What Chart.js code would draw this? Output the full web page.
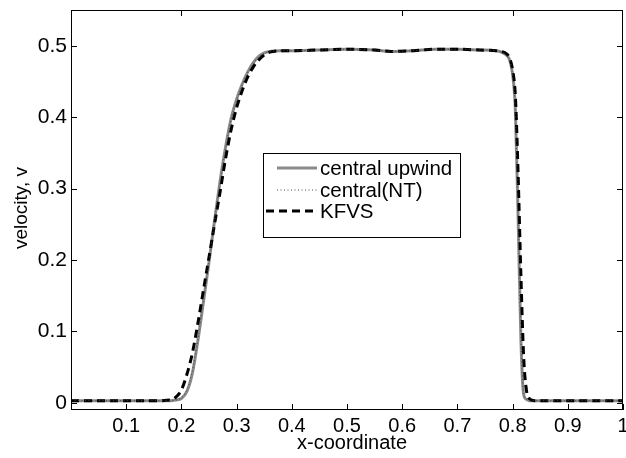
<!DOCTYPE html>
<html>
<head>
<meta charset="utf-8">
<script src="https://cdn.jsdelivr.net/npm/chart.js@4"></script>
<style>
  body { margin: 0; background: #fff; }
  canvas { display: block; }
</style>
</head>
<body>
<canvas id="velocityChart" width="626" height="458"></canvas>
<script>
// x positions shared by all three solutions
const xGrid = [0, 0.05, 0.1, 0.15, 0.18, 0.19, 0.2, 0.21, 0.22, 0.23, 0.24, 0.25, 0.26, 0.27, 0.28, 0.29,
  0.3, 0.31, 0.32, 0.33, 0.34, 0.35, 0.36, 0.38, 0.4, 0.45, 0.5, 0.55, 0.58, 0.62, 0.66, 0.7, 0.74,
  0.77, 0.78, 0.79, 0.795, 0.8, 0.805, 0.81, 0.815, 0.82, 0.825, 0.83, 0.84, 0.9, 0.95, 1.0];

const upwindV = [0.003, 0.003, 0.003, 0.003, 0.003, 0.004, 0.006, 0.016, 0.042, 0.088, 0.142, 0.197, 0.255, 0.31, 0.358, 0.398,
  0.425, 0.446, 0.463, 0.476, 0.485, 0.49, 0.492, 0.493, 0.493, 0.494, 0.495, 0.494, 0.492, 0.493, 0.495, 0.495, 0.494,
  0.493, 0.491, 0.486, 0.479, 0.46, 0.41, 0.26, 0.09, 0.012, 0.005, 0.003, 0.003, 0.003, 0.003, 0.003];

const centralNtV = [0.003, 0.003, 0.003, 0.003, 0.003, 0.004, 0.007, 0.018, 0.045, 0.09, 0.144, 0.198, 0.255, 0.309, 0.356, 0.396,
  0.424, 0.445, 0.462, 0.475, 0.484, 0.489, 0.492, 0.493, 0.493, 0.494, 0.495, 0.494, 0.492, 0.493, 0.495, 0.495, 0.494,
  0.493, 0.491, 0.486, 0.478, 0.458, 0.405, 0.255, 0.09, 0.013, 0.005, 0.003, 0.003, 0.003, 0.003, 0.003];

const kfvsV = [0.003, 0.003, 0.003, 0.003, 0.004, 0.008, 0.018, 0.04, 0.07, 0.112, 0.158, 0.204, 0.25, 0.295, 0.342, 0.382,
  0.413, 0.437, 0.456, 0.47, 0.48, 0.487, 0.491, 0.493, 0.493, 0.494, 0.495, 0.494, 0.492, 0.493, 0.495, 0.495, 0.494,
  0.493, 0.492, 0.488, 0.482, 0.466, 0.43, 0.32, 0.18, 0.065, 0.018, 0.006, 0.003, 0.003, 0.003, 0.003];

const seriesLabels = ["central upwind", "central(NT)", "KFVS"];

const xTicks = [0.1, 0.2, 0.3, 0.4, 0.5, 0.6, 0.7, 0.8, 0.9, 1];
const xTopTicks = [0.2, 0.4, 0.6, 0.8];
const yTicks = [0, 0.1, 0.2, 0.3, 0.4, 0.5];

const FONT = "'Liberation Sans', Arial, sans-serif";

function toPoints(ys) {
  return xGrid.map((x, i) => ({ x: x, y: ys[i] }));
}

/* frame, inward ticks, legend box and axis titles */
const matlabFrame = {
  id: "matlabFrame",
  afterDatasetsDraw(chart) {
    const { ctx, chartArea: a, scales } = chart;
    const xs = scales.x, ys = scales.y;
    const tick = 6;

    ctx.save();
    ctx.strokeStyle = "#000";
    ctx.lineWidth = 1;
    ctx.setLineDash([]);
    ctx.strokeRect(a.left + 0.5, a.top + 0.5, a.right - a.left - 1, a.bottom - a.top - 1);

    ctx.beginPath();
    xTicks.forEach(v => {
      const px = Math.round(xs.getPixelForValue(v)) + 0.5;
      ctx.moveTo(px, a.bottom);
      ctx.lineTo(px, a.bottom - tick);
    });
    xTopTicks.forEach(v => {
      const px = Math.round(xs.getPixelForValue(v)) + 0.5;
      ctx.moveTo(px, a.top);
      ctx.lineTo(px, a.top + tick);
    });
    yTicks.forEach(v => {
      const py = Math.round(ys.getPixelForValue(v)) + 0.5;
      ctx.moveTo(a.left, py);
      ctx.lineTo(a.left + tick, py);
      ctx.moveTo(a.right, py);
      ctx.lineTo(a.right - tick, py);
    });
    ctx.stroke();

    // legend
    const lx = 263, ly = 153, lw = 197, lh = 84;
    ctx.fillStyle = "#fff";
    ctx.fillRect(lx, ly, lw, lh);
    ctx.strokeRect(lx + 0.5, ly + 0.5, lw, lh);

    const rows = [168, 190, 211];
    chart.data.datasets.forEach((ds, i) => {
      const y = rows[i];
      ctx.beginPath();
      ctx.strokeStyle = ds.borderColor;
      ctx.lineWidth = ds.borderWidth;
      ctx.setLineDash(ds.borderDash || []);
      ctx.moveTo(i === 2 ? 266 : 277, y);
      ctx.lineTo(317, y);
      ctx.stroke();

      ctx.setLineDash([]);
      ctx.fillStyle = "#000";
      ctx.font = "20.5px " + FONT;
      ctx.textAlign = "left";
      ctx.textBaseline = "middle";
      ctx.fillText(ds.label, 320, y + 1);
    });

    // axis titles
    ctx.fillStyle = "#000";
    ctx.font = "20px " + FONT;
    ctx.textAlign = "center";
    ctx.textBaseline = "middle";
    ctx.fillText("x-coordinate", 352, 443);

    ctx.translate(22, 208);
    ctx.rotate(-Math.PI / 2);
    ctx.font = "19px " + FONT;
    ctx.fillText("velocity, v", 0, 0);
    ctx.restore();
  }
};

new Chart(document.getElementById("velocityChart"), {
  type: "line",
  data: {
    datasets: [
      {
        label: seriesLabels[0],
        data: toPoints(upwindV),
        borderColor: "#8a8a8a",
        borderWidth: 3,
        order: 2
      },
      {
        label: seriesLabels[1],
        data: toPoints(centralNtV),
        borderColor: "#4a4a4a",
        borderWidth: 1,
        borderDash: [1, 2.5],
        order: 0
      },
      {
        label: seriesLabels[2],
        data: toPoints(kfvsV),
        borderColor: "#000",
        borderWidth: 3,
        borderDash: [8, 5],
        order: 1
      }
    ]
  },
  options: {
    responsive: false,
    animation: false,
    devicePixelRatio: 1,
    elements: {
      point: { radius: 0 },
      line: { cubicInterpolationMode: "monotone", fill: false }
    },
    layout: { padding: { top: 10, right: 3, left: 0, bottom: 0 } },
    scales: {
      x: {
        type: "linear",
        min: 0,
        max: 1,
        afterBuildTicks: s => { s.ticks = xTicks.map(v => ({ value: v })); },
        afterFit: s => {
          s.height = 48;
          s.paddingLeft = 0;
          s.paddingRight = 0;
        },
        grid: { display: false, drawTicks: false },
        border: { display: false },
        ticks: {
          color: "#000",
          font: { family: FONT, size: 20 },
          padding: 4,
          maxRotation: 0,
          autoSkip: false,
          callback: v => String(v)
        }
      },
      y: {
        type: "linear",
        min: -0.01,
        max: 0.55,
        afterBuildTicks: s => { s.ticks = yTicks.map(v => ({ value: v })); },
        afterFit: s => {
          s.width = 71;
          s.paddingTop = 0;
          s.paddingBottom = 0;
        },
        grid: { display: false, drawTicks: false },
        border: { display: false },
        ticks: {
          color: "#000",
          font: { family: FONT, size: 21 },
          padding: 4,
          autoSkip: false,
          callback: v => String(v)
        }
      }
    },
    plugins: {
      legend: { display: false },
      tooltip: { enabled: false }
    }
  },
  plugins: [matlabFrame]
});
</script>
</body>
</html>
